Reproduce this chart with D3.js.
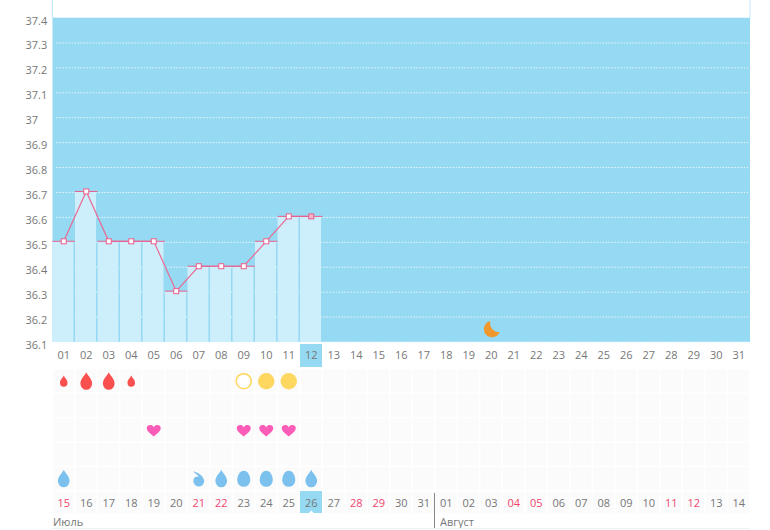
<!DOCTYPE html>
<html>
<head>
  <meta charset="utf-8">
  <title>Temperature chart</title>
  <script src="https://d3js.org/d3.v7.min.js"></script>
  <style>
    body { margin: 0; background: #fff; }
    svg { display: block; }
    text { font-family: "Open Sans", sans-serif; font-size: 11px; fill: #777; }
    .axis path, .axis line { display: none; }
    .axis text { font-family: "Open Sans", sans-serif; font-size: 11px; fill: #777; }
    .axis text.holiday { fill: #f0456f; }
  </style>
</head>
<body>
<script>
  // data
  var days = ["01","02","03","04","05","06","07","08","09","10","11","12","13","14","15","16",
              "17","18","19","20","21","22","23","24","25","26","27","28","29","30","31"];
  var dates = ["15","16","17","18","19","20","21","22","23","24","25","26","27","28","29","30","31",
               "01","02","03","04","05","06","07","08","09","10","11","12","13","14"];
  var redDates = ["15","21","22","28","29","04","05","11","12"];
  var temps = [36.5,36.7,36.5,36.5,36.5,36.3,36.4,36.4,36.4,36.5,36.6,36.6];
  var yTicks = [37.4,37.3,37.2,37.1,37,36.9,36.8,36.7,36.6,36.5,36.4,36.3,36.2,36.1];
  var rows = ["flow","a","love","b","drop"];
  var flowSmall = ["01","04"];
  var flowBig = ["02","03"];
  var sunOpen = ["09"];
  var sunFull = ["10","11"];
  var loveDays = ["05","09","10","11"];
  var dropPointed = ["01","08","12"];
  var dropComma = ["07"];
  var dropRound = ["09","10","11"];
  var moonDay = "20";
  var moonTemp = 36.15;
  var today = "12";
  var todayDate = "26";

  var w = 770, h = 530;
  var left = 52.5, right = 750, top_ = 18, bottom = 342;

  var svg = d3.select("body").append("svg").attr("width", w).attr("height", h);

  var x = d3.scaleBand().domain(days).range([left, right]);
  var x2 = d3.scaleBand().domain(dates).range([left, right]);
  var y = d3.scaleLinear().domain([36.1, 37.4]).range([bottom, top_]);
  var rowY = d3.scaleBand().domain(rows).range([369, 491]);

  // white box above the plot
  svg.append("rect").attr("x", left).attr("y", -2).attr("width", right - left).attr("height", top_ + 2)
    .attr("fill", "#fff").attr("stroke", "#bfe9f8").attr("stroke-width", 1);

  svg.append("rect").attr("x", left).attr("y", top_).attr("width", right - left).attr("height", bottom - top_)
    .attr("fill", "#95d9f2");

  // dotted grid
  svg.selectAll(".grid").data(yTicks.filter(function(d){ return d < 37.4; })).enter().append("line")
    .attr("x1", left + 4).attr("x2", right - 2)
    .attr("y1", function(d){ return y(d); }).attr("y2", function(d){ return y(d); })
    .attr("stroke", "#e6f7fd").attr("stroke-width", 1).attr("stroke-dasharray", "1.5 1.5");

  // bars
  svg.selectAll(".bar").data(temps).enter().append("rect")
    .attr("x", function(d, i){ return x(days[i]); })
    .attr("y", function(d){ return y(d) - 1; })
    .attr("width", x.bandwidth() - 1.5)
    .attr("height", function(d){ return bottom - y(d) + 1; })
    .attr("fill", "#cdeefb");

  // cells under the chart
  rows.forEach(function(r){
    svg.selectAll(".cell-" + r).data(days).enter().append("rect")
      .attr("x", function(d){ return x(d) + 0.5; })
      .attr("y", rowY(r) + 0.5)
      .attr("width", x.bandwidth() - 1.5)
      .attr("height", rowY.bandwidth() - 1.5)
      .attr("fill", "#fbfbfb");
  });
  svg.selectAll(".cell-date").data(dates).enter().append("rect")
    .attr("x", function(d){ return x2(d) + 0.5; })
    .attr("y", 491.5)
    .attr("width", x2.bandwidth() - 1.5)
    .attr("height", 22)
    .attr("fill", "#fbfbfb");

  // current day highlights
  svg.append("rect").attr("x", x(today)).attr("y", 344).attr("width", x.bandwidth() - 0.5).attr("height", 23).attr("fill", "#95d9f2");
  svg.append("rect").attr("x", x2(todayDate)).attr("y", 491).attr("width", x2.bandwidth() - 0.5).attr("height", 22).attr("fill", "#95d9f2");
  svg.append("path").attr("d", "M-3,0.5 L0,-2.5 L3,0.5 Z")
    .attr("transform", "translate(" + (x2(todayDate) + x2.bandwidth() / 2) + ",513)").attr("fill", "#fff");

  // axes
  var labels = { };
  yTicks.forEach(function(t){ labels[t] = String(t); });
  var yAxis = d3.axisLeft(y).tickValues(yTicks).tickFormat(function(d){ return labels[d]; });
  var gy = svg.append("g").attr("class", "axis").attr("transform", "translate(" + left + ",0)").call(yAxis);
  gy.selectAll("text").attr("x", -27).attr("dy", "0.55em").attr("text-anchor", "start");

  var xAxis = d3.axisBottom(x).tickSize(0).tickPadding(0);
  var gx = svg.append("g").attr("class", "axis").attr("transform", "translate(0,351.5)").call(xAxis);

  var xAxis2 = d3.axisBottom(x2).tickSize(0).tickPadding(0);
  var gx2 = svg.append("g").attr("class", "axis").attr("transform", "translate(0,499)").call(xAxis2);
  gx2.selectAll("text").classed("holiday", function(d){ return redDates.indexOf(d) >= 0; });

  // temperature line, caps and markers
  var cx = function(i){ return x(days[i]) + x.bandwidth() / 2; };
  var line = d3.line().x(function(d, i){ return cx(i); }).y(function(d){ return y(d) - 1; });
  svg.append("path").datum(temps).attr("d", line).attr("fill", "none").attr("stroke", "#ea6a94").attr("stroke-width", 1.2);

  svg.selectAll(".cap").data(temps).enter().append("line")
    .attr("x1", function(d, i){ return x(days[i]); })
    .attr("x2", function(d, i){ return x(days[i]) + x.bandwidth(); })
    .attr("y1", function(d){ return y(d) - 1; }).attr("y2", function(d){ return y(d) - 1; })
    .attr("stroke", "#ea5f8c").attr("stroke-width", 1);

  svg.selectAll(".mark").data(temps).enter().append("rect")
    .attr("x", function(d, i){ return cx(i) - 2.5; })
    .attr("y", function(d){ return y(d) - 3.5; })
    .attr("width", 5).attr("height", 5)
    .attr("fill", function(d, i){ return days[i] === today ? "#f7b5ca" : "#fff"; })
    .attr("stroke", "#ea5f8c").attr("stroke-width", 1);

  // icons
  var dropPath = "M0,-10 C1.5,-6 6.5,-3 6.5,2.5 A6.5,7 0 0 1 -6.5,2.5 C-6.5,-3 -1.5,-6 0,-10 Z";
  var heartPath = "M0,6.5 C-3,3.5 -7,1.5 -7,-2 C-7,-5 -2,-6.5 0,-2.8 C2,-6.5 7,-5 7,-2 C7,1.5 3,3.5 0,6.5 Z";
  var eggPath = "M0,-8 C4,-8 6.5,-3 6.5,1.5 A6.5,6.5 0 0 1 -6.5,1.5 C-6.5,-3 -4,-8 0,-8 Z";
  var commaPath = "M-5.5,-7.5 C-1,-6.5 4,-3.5 5.5,2 A5.5,5.5 0 1 1 -5,0 C-4,-2 -1.5,-2.5 0.5,-2 C-1,-4 -3.5,-5 -5.5,-7.5 Z";
  var moonPath = "M-1,-8.5 A8.2,8.2 0 1 0 8.5,2.5 A9,9 0 0 1 -1,-8.5 Z";

  function icons(list, row, path, fill, k){
    svg.selectAll(null).data(list).enter().append("path")
      .attr("d", path)
      .attr("transform", function(d){
        return "translate(" + (x(d) + x.bandwidth() / 2) + "," + (rowY(row) + rowY.bandwidth() / 2) + ") scale(" + k + ")";
      })
      .attr("fill", fill);
  }
  icons(flowSmall, "flow", dropPath, "#f9504f", 0.58);
  icons(flowBig, "flow", dropPath, "#f9504f", 0.9);
  icons(loveDays, "love", heartPath, "#fb5cb8", 1);
  icons(dropPointed, "drop", dropPath, "#7cc1ee", 0.9);
  icons(dropComma, "drop", commaPath, "#7cc1ee", 1);
  icons(dropRound, "drop", eggPath, "#7cc1ee", 1);

  svg.selectAll(null).data(sunFull).enter().append("circle")
    .attr("cx", function(d){ return x(d) + x.bandwidth() / 2; })
    .attr("cy", rowY("flow") + rowY.bandwidth() / 2)
    .attr("r", 8.2).attr("fill", "#fdd75f");
  svg.selectAll(null).data(sunOpen).enter().append("circle")
    .attr("cx", function(d){ return x(d) + x.bandwidth() / 2; })
    .attr("cy", rowY("flow") + rowY.bandwidth() / 2)
    .attr("r", 7.5).attr("fill", "#fff").attr("stroke", "#fdd75f").attr("stroke-width", 1.6);

  svg.append("path").attr("d", moonPath)
    .attr("transform", "translate(" + (x(moonDay) + x.bandwidth() / 2) + "," + y(moonTemp) + ")")
    .attr("fill", "#f0982c");

  // months
  svg.append("text").attr("x", 53).attr("y", 526).text("Июль");
  svg.append("text").attr("x", 440).attr("y", 526).text("Август");
  svg.append("line").attr("x1", 434.5).attr("x2", 434.5).attr("y1", 493).attr("y2", 528).attr("stroke", "#888");
  svg.append("line").attr("x1", 52).attr("x2", 750).attr("y1", 528.5).attr("y2", 528.5).attr("stroke", "#f2f2f2");
</script>
</body>
</html>
